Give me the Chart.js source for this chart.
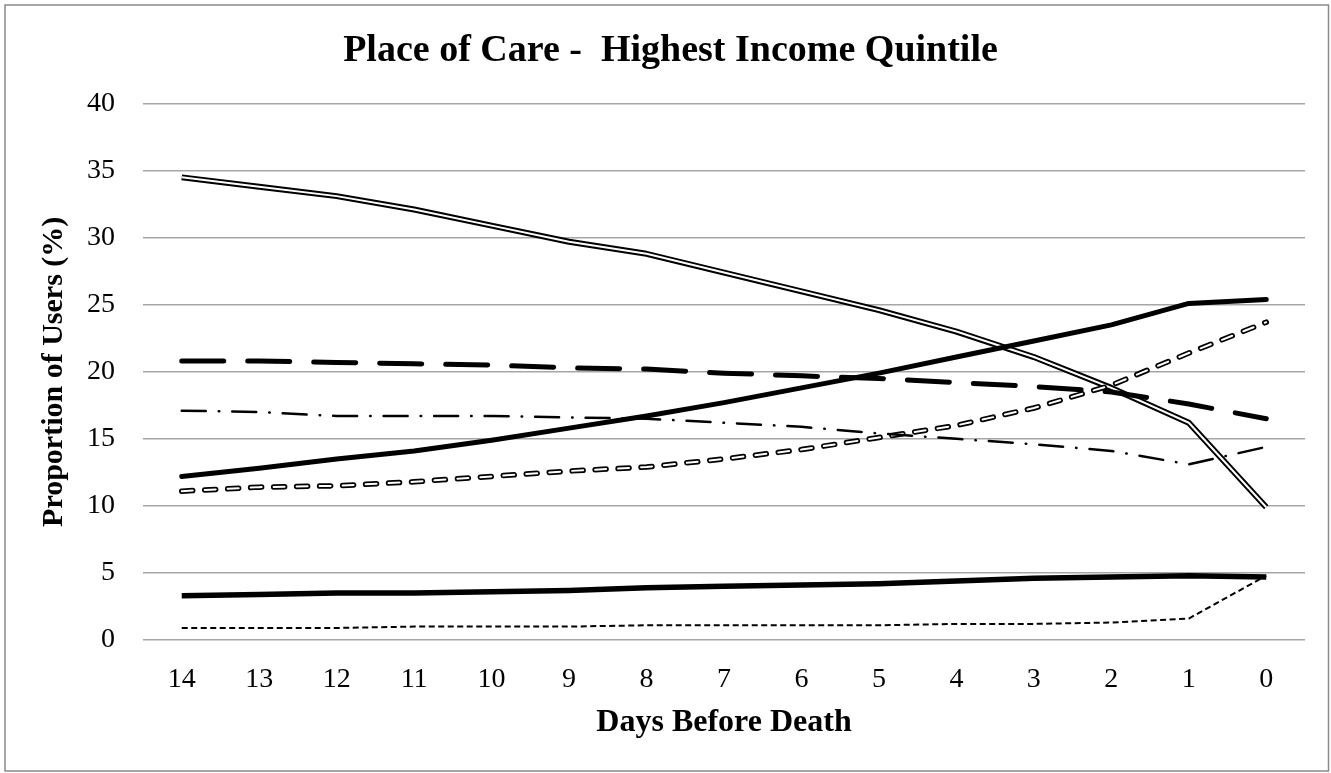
<!DOCTYPE html>
<html>
<head>
<meta charset="utf-8">
<script src="https://cdn.jsdelivr.net/npm/chart.js@4.4.1/dist/chart.umd.min.js"></script>
<style>
  html, body { margin: 0; padding: 0; background: #ffffff; }
  #wrap { position: relative; width: 1331px; height: 773px; }
  canvas { display: block; }
</style>
</head>
<body>
<div id="wrap"><canvas id="c" width="1331" height="773"></canvas></div>
<script>
// ---- data ----
const days = ['14','13','12','11','10','9','8','7','6','5','4','3','2','1','0'];
const yTicks = [0, 5, 10, 15, 20, 25, 30, 35, 40];

const doubleSolid  = [34.5, 33.8, 33.1, 32.1, 30.9, 29.7, 28.8, 27.4, 26.0, 24.6, 23.0, 21.1, 18.8, 16.2, 9.9];
const thickSolid   = [12.2, 12.8, 13.5, 14.1, 14.9, 15.8, 16.7, 17.7, 18.8, 19.9, 21.1, 22.3, 23.5, 25.1, 25.4];
const thickDashed  = [20.8, 20.8, 20.7, 20.6, 20.5, 20.3, 20.2, 19.9, 19.7, 19.5, 19.2, 18.9, 18.5, 17.6, 16.5];
const dashDot      = [17.1, 17.0, 16.7, 16.7, 16.7, 16.6, 16.5, 16.2, 15.9, 15.4, 15.0, 14.6, 14.1, 13.1, 14.4];
const doubleDashed = [11.1, 11.4, 11.5, 11.8, 12.2, 12.6, 12.9, 13.5, 14.2, 15.1, 16.0, 17.3, 19.0, 21.4, 23.7];
const lowSolid     = [3.3, 3.4, 3.5, 3.5, 3.6, 3.7, 3.9, 4.0, 4.1, 4.2, 4.4, 4.6, 4.7, 4.8, 4.7];
const lowDashed    = [0.9, 0.9, 0.9, 1.0, 1.0, 1.0, 1.1, 1.1, 1.1, 1.1, 1.2, 1.2, 1.3, 1.6, 4.8];

const titleText = 'Place of Care -  Highest Income Quintile';
const xTitle = 'Days Before Death';
const yTitle = 'Proportion of Users (%)';

const FONT = "'Liberation Serif', 'Times New Roman', serif";

function line(data, opts) {
  return Object.assign({
    data: data,
    borderColor: '#000000',
    backgroundColor: '#000000',
    pointRadius: 0,
    pointHoverRadius: 0,
    fill: false,
    tension: 0,
    borderJoinStyle: 'round',
    borderCapStyle: 'butt'
  }, opts);
}

const frame = {
  id: 'frame',
  beforeDraw(chart) {
    const ctx = chart.ctx;
    ctx.save();
    ctx.fillStyle = '#ffffff';
    ctx.fillRect(0, 0, chart.width, chart.height);
    ctx.strokeStyle = '#8a8a8a';
    ctx.lineWidth = 1.5;
    ctx.strokeRect(5, 5, 1323.5, 766);
    ctx.restore();
  }
};

new Chart(document.getElementById('c'), {
  type: 'line',
  data: {
    labels: days,
    datasets: [
      line(doubleSolid, { label: 'A', borderWidth: 6, order: 10 }),
      line(doubleSolid, { label: 'A-inner', borderWidth: 2, borderColor: '#ffffff', order: 9 }),
      line(doubleDashed, { label: 'E', borderWidth: 5.5, borderDash: [11, 12], borderCapStyle: 'round', order: 8 }),
      line(doubleDashed, { label: 'E-inner', borderWidth: 2, borderDash: [11, 12], borderCapStyle: 'round', borderColor: '#ffffff', order: 7 }),
      line(thickSolid, { label: 'B', borderWidth: 5, borderCapStyle: 'round', order: 6 }),
      line(thickDashed, { label: 'C', borderWidth: 5, borderDash: [42, 24], borderCapStyle: 'round', order: 5 }),
      line(dashDot, { label: 'D', borderWidth: 2.5, borderDash: [24, 13, 0.5, 13], borderCapStyle: 'round', order: 4 }),
      line(lowSolid, { label: 'F', borderWidth: 5.5, order: 3 }),
      line(lowDashed, { label: 'G', borderWidth: 2, borderDash: [6, 3.5], order: 2 })
    ]
  },
  options: {
    responsive: false,
    animation: false,
    events: [],
    layout: { padding: { left: 36, right: 26, top: 0, bottom: 0 } },
    plugins: {
      legend: { display: false },
      tooltip: { enabled: false },
      title: {
        display: true,
        text: titleText,
        color: '#000000',
        font: { family: FONT, size: 38, weight: 'bold', lineHeight: 1.2 },
        padding: { top: 28, bottom: 30 }
      }
    },
    scales: {
      x: {
        offset: true,
        grid: { display: false, drawTicks: false, offset: true },
        border: { display: false },
        ticks: {
          color: '#000000',
          font: { family: FONT, size: 28 },
          padding: 23,
          maxRotation: 0,
          autoSkip: false
        },
        title: {
          display: true,
          text: xTitle,
          color: '#000000',
          font: { family: FONT, size: 32, weight: 'bold', lineHeight: 1.2 },
          padding: { top: 0, bottom: 31 }
        },
        afterFit(scale) { scale.height = 133; }
      },
      y: {
        min: 0,
        max: 40,
        afterBuildTicks(scale) { scale.ticks = yTicks.map(v => ({ value: v })); },
        grid: { color: '#a6a6a6', lineWidth: 1.5, drawTicks: false },
        border: { display: false },
        ticks: {
          color: '#000000',
          font: { family: FONT, size: 28 },
          padding: 28
        },
        title: {
          display: true,
          text: yTitle,
          color: '#000000',
          font: { family: FONT, size: 30, weight: 'bold', lineHeight: 1.2 },
          padding: { top: 0, bottom: 0 }
        },
        afterFit(scale) { scale.width = 107; }
      }
    }
  },
  plugins: [frame]
});
</script>
</body>
</html>
